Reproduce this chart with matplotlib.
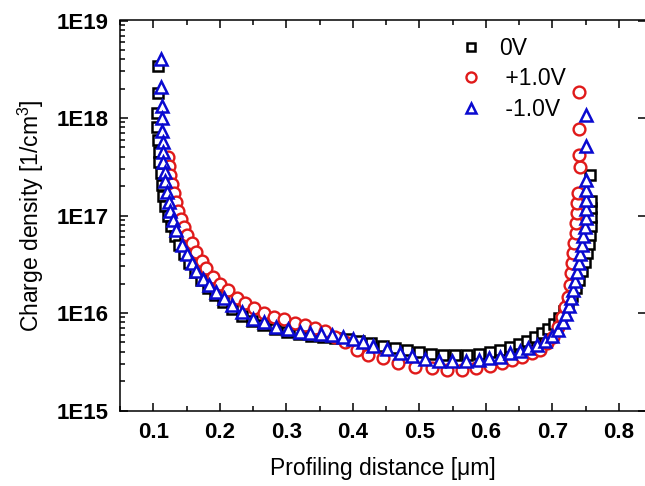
import matplotlib
matplotlib.use("Agg")
import matplotlib.pyplot as plt
from matplotlib.ticker import MultipleLocator, FixedLocator, LogLocator, NullFormatter

plt.rcParams['font.family'] = ['Liberation Sans', 'DejaVu Sans']
plt.rcParams['mathtext.fontset'] = 'custom'
plt.rcParams['mathtext.rm'] = 'Liberation Sans'

# 0V (black squares)
x_0v = [0.1075, 0.1075, 0.106, 0.106, 0.107, 0.108, 0.109, 0.111, 0.113, 0.115,
        0.118, 0.122, 0.127, 0.133, 0.139, 0.146, 0.154, 0.163, 0.172, 0.182,
        0.193, 0.205, 0.218, 0.233, 0.248, 0.265, 0.283, 0.301, 0.319, 0.337,
        0.355, 0.373, 0.391, 0.409, 0.427, 0.445, 0.463, 0.481, 0.4995, 0.5175,
        0.536, 0.554, 0.572, 0.590, 0.606, 0.621, 0.636, 0.650, 0.662, 0.674,
        0.6845, 0.6935, 0.7026, 0.710, 0.7176, 0.7236, 0.730, 0.736, 0.7406, 0.745,
        0.7492, 0.752, 0.7552, 0.757, 0.758, 0.758, 0.758, 0.758, 0.757]
n_0v = [3.4e18, 1.79e18, 1.12e18, 8.1e17, 6.0e17, 4.5e17, 3.5e17, 2.7e17, 2.06e17, 1.58e17,
        1.25e17, 9.9e16, 7.8e16, 6.2e16, 5.0e16, 4.0e16, 3.26e16, 2.63e16, 2.18e16, 1.8e16,
        1.53e16, 1.30e16, 1.10e16, 9.3e15, 8.3e15, 7.5e15, 6.9e15, 6.4e15, 6.1e15, 5.8e15,
        5.7e15, 5.55e15, 5.4e15, 5.2e15, 4.9e15, 4.6e15, 4.37e15, 4.17e15, 3.98e15, 3.78e15,
        3.7e15, 3.7e15, 3.7e15, 3.78e15, 3.98e15, 4.17e15, 4.48e15, 4.8e15, 5.2e15, 5.7e15,
        6.2e15, 6.9e15, 7.7e15, 8.9e15, 1.05e16, 1.24e16, 1.49e16, 1.8e16, 2.18e16, 2.7e16,
        3.33e16, 4.1e16, 5.1e16, 6.3e16, 7.8e16, 9.7e16, 1.19e17, 1.41e17, 2.6e17]

# +1.0V (red circles)
x_p1 = [0.122, 0.1236, 0.125, 0.128, 0.131, 0.134, 0.137, 0.1416, 0.146, 0.151,
        0.1577, 0.165, 0.1728, 0.180, 0.190, 0.200, 0.212, 0.2254, 0.238, 0.2514,
        0.267, 0.2815, 0.2965, 0.313, 0.328, 0.343, 0.358, 0.373, 0.388, 0.406,
        0.423, 0.446, 0.468, 0.4935, 0.5186, 0.541, 0.564, 0.585, 0.606, 0.624,
        0.640, 0.654, 0.669, 0.6815, 0.6916, 0.7015, 0.709, 0.714, 0.719, 0.724,
        0.726, 0.728, 0.730, 0.7315, 0.733, 0.735, 0.7355, 0.7364, 0.7375, 0.7383,
        0.741, 0.7406, 0.7406, 0.7406]
n_p1 = [4.0e17, 3.2e17, 2.6e17, 2.1e17, 1.7e17, 1.37e17, 1.11e17, 9.2e16, 7.6e16, 6.3e16,
        5.2e16, 4.27e16, 3.44e16, 2.88e16, 2.36e16, 2.0e16, 1.72e16, 1.41e16, 1.26e16, 1.12e16,
        1.0e16, 9.2e15, 8.6e15, 7.9e15, 7.5e15, 7.0e15, 6.5e15, 5.7e15, 5.1e15, 4.17e15,
        3.7e15, 3.43e15, 3.05e15, 2.82e15, 2.71e15, 2.63e15, 2.63e15, 2.71e15, 2.86e15, 3.05e15,
        3.3e15, 3.55e15, 3.85e15, 4.17e15, 4.9e15, 5.7e15, 7.2e15, 9.1e15, 1.15e16, 1.47e16,
        1.94e16, 2.57e16, 3.24e16, 4.1e16, 5.2e16, 6.6e16, 8.4e16, 1.06e17, 1.34e17, 1.7e17,
        3.16e17, 4.2e17, 7.7e17, 1.85e18]

# -1.0V (blue triangles)
x_m1 = [0.111, 0.111, 0.113, 0.113, 0.113, 0.114, 0.114, 0.115, 0.117, 0.118,
        0.120, 0.123, 0.125, 0.129, 0.134, 0.1427, 0.151, 0.158, 0.165, 0.175,
        0.184, 0.195, 0.206, 0.219, 0.233, 0.250, 0.266, 0.285, 0.302, 0.320,
        0.336, 0.352, 0.368, 0.385, 0.400, 0.416, 0.431, 0.451, 0.471, 0.489,
        0.509, 0.529, 0.549, 0.570, 0.589, 0.605, 0.621, 0.636, 0.651, 0.664,
        0.677, 0.689, 0.699, 0.709, 0.716, 0.720, 0.725, 0.728, 0.731, 0.734,
        0.737, 0.740, 0.7416, 0.744, 0.746, 0.749, 0.7507, 0.7507, 0.7507, 0.7507,
        0.7507, 0.7507, 0.7507]
n_m1 = [4.0e18, 2.07e18, 1.33e18, 1.0e18, 7.4e17, 5.7e17, 4.5e17, 3.55e17, 2.8e17, 2.24e17,
        1.75e17, 1.38e17, 1.12e17, 9.0e16, 7.1e16, 5.0e16, 4.03e16, 3.28e16, 2.72e16, 2.22e16,
        1.94e16, 1.63e16, 1.41e16, 1.20e16, 1.03e16, 8.6e15, 8.1e15, 7.2e15, 6.8e15, 6.45e15,
        6.3e15, 6.1e15, 5.9e15, 5.7e15, 5.4e15, 5.1e15, 4.6e15, 4.25e15, 3.92e15, 3.63e15,
        3.35e15, 3.24e15, 3.24e15, 3.24e15, 3.3e15, 3.43e15, 3.55e15, 3.86e15, 4.1e15, 4.35e15,
        4.7e15, 5.2e15, 5.8e15, 6.7e15, 8.1e15, 9.8e15, 1.17e16, 1.43e16, 1.72e16, 2.13e16,
        2.63e16, 3.24e16, 4.03e16, 4.98e16, 6.2e16, 7.6e16, 9.4e16, 1.17e17, 1.44e17, 1.82e17,
        2.29e17, 5.2e17, 1.07e18]

y_ticks = [1e15, 1e16, 1e17, 1e18, 1e19]
y_labels = ['1E15', '1E16', '1E17', '1E18', '1E19']
x_ticks = [0.1, 0.2, 0.3, 0.4, 0.5, 0.6, 0.7, 0.8]

fig = plt.figure(figsize=(6.45, 4.86), dpi=100)
ax = fig.add_axes([120 / 645, 1 - 410.5 / 486, 525.5 / 645, 390 / 486])

ax.plot(x_0v, n_0v, 's', ms=7, mfc='white', mec='black', mew=1.8, label='0V')
ax.plot(x_p1, n_p1, 'o', ms=8.5, mfc='white', mec='#e01a1a', mew=1.7, label=' +1.0V')
ax.plot(x_m1, n_m1, '^', ms=9, mfc='white', mec='#0a0ad0', mew=1.8, label=' -1.0V')

ax.set_yscale('log')
ax.set_xlim(0.05, 0.84)
ax.set_ylim(1e15, 1e19)

ax.xaxis.set_major_locator(FixedLocator(x_ticks))
ax.xaxis.set_minor_locator(MultipleLocator(0.05))
ax.set_xticklabels(['%.1f' % v for v in x_ticks])
ax.yaxis.set_major_locator(FixedLocator(y_ticks))
ax.set_yticklabels(y_labels)
ax.yaxis.set_minor_locator(LogLocator(base=10, subs=range(2, 10)))
ax.yaxis.set_minor_formatter(NullFormatter())

ax.tick_params(which='both', direction='in', top=True, right=True, width=1.1)
ax.tick_params(which='major', length=6, pad=8)
ax.tick_params(which='minor', length=3.5)
ax.tick_params(axis='y', which='minor', right=False)
for lab in ax.get_xticklabels() + ax.get_yticklabels():
    lab.set_fontweight('bold')
    lab.set_fontsize(16)
for sp in ax.spines.values():
    sp.set_linewidth(1.1)

ax.set_xlabel('Profiling distance [\u03bcm]', fontsize=16.5, labelpad=10)
ax.set_ylabel(r'Charge density [1/cm$^{3}$]', fontsize=16.5, labelpad=8)

ax.legend(loc='upper left', bbox_to_anchor=(0.647, 0.958), frameon=False,
          fontsize=16.5, handlelength=1.0, handletextpad=0.7, labelspacing=0.32,
          borderpad=0, borderaxespad=0, markerscale=0.85)

fig.savefig('out.png', dpi=100)
